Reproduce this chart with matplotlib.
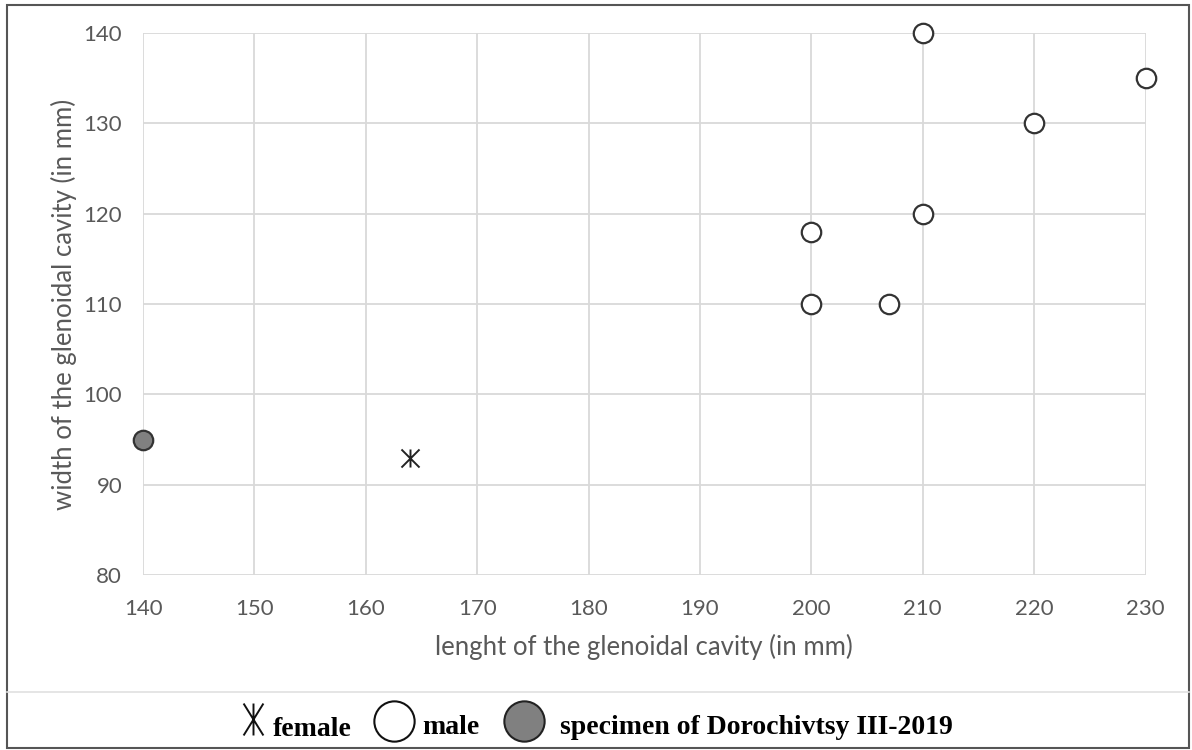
import matplotlib
matplotlib.use('Agg')
from matplotlib import pyplot as plt
from matplotlib.path import Path
from matplotlib.patches import Rectangle

# data
male_len = [200, 200, 207, 210, 210, 220, 230]
male_wid = [110, 118, 110, 120, 140, 130, 135]
female_len = [164]
female_wid = [93]
spec_len = [140]
spec_wid = [95]

xticks = [140, 150, 160, 170, 180, 190, 200, 210, 220, 230]
yticks = [80, 90, 100, 110, 120, 130, 140]

plt.rcParams['font.family'] = ['Lato', 'DejaVu Sans']
gray_txt = '#595959'
edge = '#333333'

M, L = Path.MOVETO, Path.LINETO
# X with a vertical bar through it
star = Path([(-1, -1), (1, 1), (-1, 1), (1, -1), (0, -1), (0, 1)],
            [M, L, M, L, M, L])
star_leg = Path([(-0.62, -1), (0.62, 1), (-0.62, 1), (0.62, -1), (0, -1), (0, 1)],
                [M, L, M, L, M, L])

fig = plt.figure(figsize=(11.92, 7.5), dpi=100)
ax = fig.add_axes([0.120, 0.2333, 0.841, 0.7227])

ax.scatter(male_len, male_wid, s=14**2, facecolor='white', edgecolor=edge,
           linewidth=1.6, zorder=3, clip_on=False)
ax.scatter(female_len, female_wid, s=13**2, marker=star, color='#222222',
           linewidth=1.4, zorder=3, clip_on=False)
ax.scatter(spec_len, spec_wid, s=14**2, facecolor='#808080', edgecolor=edge,
           linewidth=1.6, zorder=3, clip_on=False)

ax.set_xlim(140, 230)
ax.set_ylim(80, 140)
ax.set_xticks(xticks)
ax.set_yticks(yticks)
ax.grid(color='#d9d9d9', linewidth=1.3)
ax.set_axisbelow(True)
for s in ax.spines.values():
    s.set_visible(False)
ax.tick_params(length=0, labelsize=16, labelcolor=gray_txt)
ax.tick_params(axis='x', pad=17)
ax.tick_params(axis='y', pad=15)
ax.set_xlabel('lenght of the glenoidal cavity (in mm)', fontsize=18.5,
              color=gray_txt, labelpad=11)
ax.set_ylabel('width of the glenoidal cavity (in mm)', fontsize=18.5,
              color=gray_txt, labelpad=5)

# overlay in pixel coords for the frame and the hand-made legend
lax = fig.add_axes([0, 0, 1, 1], zorder=-1)
lax.set_xlim(0, 1192)
lax.set_ylim(750, 0)
lax.axis('off')
lax.add_patch(Rectangle((7, 5), 1182, 743, fill=False, edgecolor='#555555',
                        linewidth=1.5))
lax.plot([7, 1189], [692, 692], color='#e0e0e0', linewidth=1.2)

lax.plot([253], [719], linestyle='none', marker=star_leg, markersize=23,
         color='#111111', markeredgewidth=1.4)
lax.plot([394], [721], linestyle='none', marker='o', markersize=29,
         markerfacecolor='white', markeredgecolor='#111111', markeredgewidth=1.5)
lax.plot([524], [721], linestyle='none', marker='o', markersize=29,
         markerfacecolor='#808080', markeredgecolor='#222222', markeredgewidth=1.5)
leg_font = {'family': 'Liberation Serif', 'weight': 'bold', 'size': 20}
lax.text(273, 736, 'female', va='baseline', ha='left', fontdict=leg_font)
lax.text(422, 734, 'male', va='baseline', ha='left', fontdict=leg_font)
lax.text(560, 734, 'specimen of Dorochivtsy III-2019', va='baseline', ha='left',
         fontdict=leg_font)

fig.savefig('out.png', dpi=100)
